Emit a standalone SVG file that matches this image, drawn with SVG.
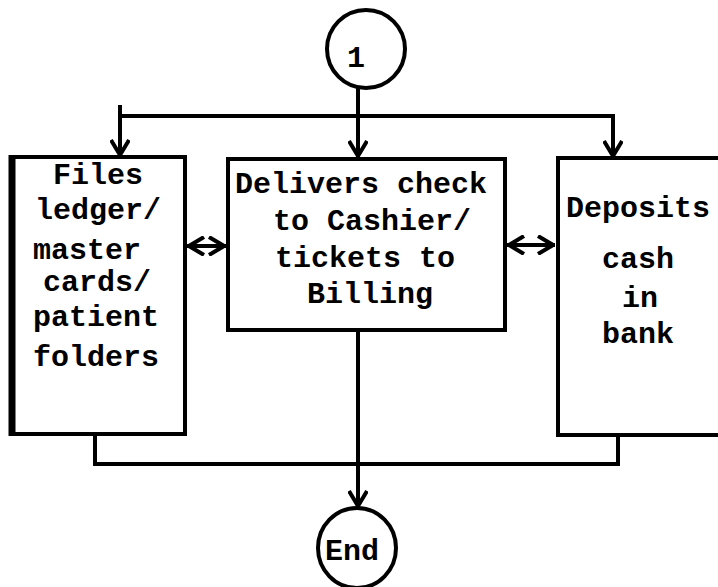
<svg xmlns="http://www.w3.org/2000/svg" width="718" height="587" viewBox="0 0 718 587">
<style>
  .box { fill: #fff; stroke: #000; stroke-width: 4; }
  .term { fill: #fff; stroke: #000; stroke-width: 4; }
  .ln { fill: none; stroke: #000; stroke-width: 4; stroke-linecap: square; stroke-linejoin: miter; }
  .t { font-family: "Liberation Mono", "Courier New", monospace; font-size: 30px; font-weight: bold; fill: #000; }
</style>
<defs>
  <marker id="ah" viewBox="0 0 20 20" refX="18" refY="10" markerWidth="20" markerHeight="20" markerUnits="userSpaceOnUse" orient="auto-start-reverse">
    <path d="M3,1 L18,10 L3,19" fill="none" stroke="#000" stroke-width="4" stroke-linejoin="miter"/>
  </marker>
</defs>
<rect x="0" y="0" width="718" height="587" fill="#fff"/>
<g id="connectors">
  <line class="ln" x1="358" y1="88" x2="358" y2="156" marker-end="url(#ah)"/>
  <polyline class="ln" points="120,107 120,116 613,116 613,156"/>
  <line class="ln" x1="120" y1="116" x2="120" y2="155" marker-end="url(#ah)"/>
  <line class="ln" x1="613" y1="116" x2="613" y2="156" marker-end="url(#ah)"/>
  <line class="ln" x1="189" y1="246" x2="224" y2="246" marker-start="url(#ah)" marker-end="url(#ah)"/>
  <line class="ln" x1="509" y1="245" x2="553" y2="245" marker-start="url(#ah)" marker-end="url(#ah)"/>
  <polyline class="ln" points="95,435 95,464 618,464 618,437"/>
  <line class="ln" x1="358" y1="330" x2="358" y2="506" marker-end="url(#ah)"/>
</g>
<g id="start">
  <ellipse class="term" cx="366" cy="49" rx="39" ry="39"/>
  <text class="t" x="356" y="67" text-anchor="middle">1</text>
</g>
<g id="files">
  <rect class="box" x="12" y="157" width="173" height="277"/>
  <line x1="12" y1="155" x2="12" y2="436" stroke="#000" stroke-width="7"/>
  <text class="t" x="53" y="184">Files</text>
  <text class="t" x="35" y="219">ledger/</text>
  <text class="t" x="33" y="259">master</text>
  <text class="t" x="43" y="291">cards/</text>
  <text class="t" x="33" y="326">patient</text>
  <text class="t" x="33" y="366">folders</text>
</g>
<g id="delivers">
  <rect class="box" x="228" y="159" width="277" height="171"/>
  <text class="t" x="235" y="193">Delivers check</text>
  <text class="t" x="273" y="230">to Cashier/</text>
  <text class="t" x="275" y="267">tickets to</text>
  <text class="t" x="307" y="303">Billing</text>
</g>
<g id="deposits">
  <rect class="box" x="558" y="158" width="170" height="277"/>
  <text class="t" x="566" y="217">Deposits</text>
  <text class="t" x="602" y="268">cash</text>
  <text class="t" x="622" y="307">in</text>
  <text class="t" x="602" y="343">bank</text>
</g>
<g id="end">
  <ellipse class="term" cx="357" cy="548" rx="39" ry="40"/>
  <text class="t" x="352" y="560" text-anchor="middle">End</text>
</g>
</svg>
